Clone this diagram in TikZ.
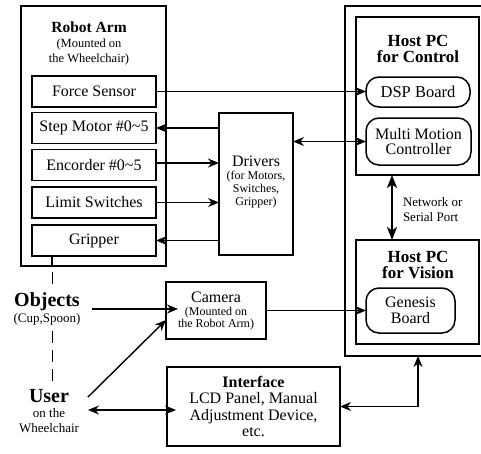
\documentclass[tikz,border=0pt]{standalone}
\usepackage{fontspec}
\setmainfont{Liberation Serif}
\usetikzlibrary{arrows.meta,calc}
\newcommand\fsz[2]{\fontsize{#1}{#2}\selectfont}

\begin{document}
\begin{tikzpicture}[x=1pt,y=-1pt,
  box/.style={draw, line width=1.5pt, inner sep=0pt, outer sep=0pt},
  heavy/.style={draw, line width=2.2pt, inner sep=0pt, outer sep=0pt},
  rbox/.style={box, rounded corners=13pt},
  txt/.style={inner sep=0pt, outer sep=0pt, align=center},
  tip/.tip={Stealth[length=11pt,width=9pt,inset=3.5pt]},
  bigtip/.tip={Stealth[length=13pt,width=10pt,inset=3.5pt]},
  arr/.style={-tip, line width=1.4pt},
  dbl/.style={tip-tip, line width=1.4pt},
  bigdbl/.style={bigtip-bigtip, line width=2.2pt},
  spine/.style={line width=1pt, dash pattern=on 12pt off 7pt}
]
\useasboundingbox (0,0) rectangle (481,453);

% ---------------- robot arm ----------------
\node[heavy, minimum width=145pt, minimum height=260pt] (arm) at (93.5,136) {};
\node[txt, font=\fsz{12.5}{15}] (armt) at (89,43)
  {{\bfseries\fsz{15.5}{15}Robot Arm}\\(Mounted on\\the Wheelchair)};
\begin{scope}[every node/.style={box, minimum width=124pt, minimum height=31pt, font=\fsz{16}{18}}]
  \node (force) at (94,91.5)  {Force Sensor};
  \node (step)  at (94,128)   {Step Motor \#0\textasciitilde5};
  \node (enc)   at (94,165)   {Encorder \#0\textasciitilde5};
  \node (limit) at (94,202.5) {Limit Switches};
  \node (grip)  at (94,240.5) {Gripper};
\end{scope}

% ---------------- drivers ----------------
\node[heavy, minimum width=74pt, minimum height=142pt] (drv) at (256,184) {};
\node[txt, font=\fsz{12}{13}] (drvt) at (256,182)
  {{\fsz{16}{16}Drivers}\\(for Motors,\\Switches,\\Gripper)};

% ---------------- host PCs ----------------
\node[heavy, minimum width=140pt, minimum height=350pt] (host) at (415,181) {};
\node[box, minimum width=123pt, minimum height=158pt] (ctrl) at (417.5,96) {};
\node[txt, font=\bfseries\fsz{17}{15.5}] (ctrlt) at (418,49) {Host PC\\for Control};
\node[rbox, minimum width=104pt, minimum height=30pt, font=\fsz{16.5}{18}] (dsp) at (418,92) {DSP Board};
\node[rbox, minimum width=105pt, minimum height=47pt, align=center, font=\fsz{16}{15}] (mmc) at (418.5,141.5)
  {Multi Motion\\Controller};

\node[box, minimum width=123pt, minimum height=104pt] (vis) at (417.5,292) {};
\node[txt, font=\bfseries\fsz{17}{16}] (vist) at (418,265) {Host PC\\for Vision};
\node[rbox, minimum width=89pt, minimum height=45pt, align=center, font=\fsz{16}{16}] (gen) at (410.5,310.5)
  {Genesis\\Board};

\node[txt, align=left, anchor=west, font=\fsz{13}{15}] (net) at (403,209.5) {Network or\\Serial Port};

% ---------------- camera and interface ----------------
\node[heavy, minimum width=100pt, minimum height=57pt] (cam) at (216,310.5) {};
\node[txt, font=\fsz{12}{12.5}] (camt) at (216,311)
  {{\fsz{16}{16}Camera}\\(Mounted on\\the Robot Arm)};
\node[heavy, minimum width=173pt, minimum height=79pt, align=center, font=\fsz{16}{16.3}] (intf) at (253.5,406.5)
  {\textbf{Interface}\\LCD Panel, Manual\\Adjustment Device,\\etc.};

% ---------------- objects and user ----------------
\node[txt, font=\fsz{13}{16}] (obj) at (47,309) {{\bfseries\fsz{20}{20}Objects}\\(Cup,Spoon)};
\node[txt, font=\fsz{13}{14.5}] (user) at (49,411) {{\bfseries\fsz{20}{20}User}\\[1pt]on the\\Wheelchair};

% ---------------- connectors ----------------
\coordinate (sp) at ([xshift=-42pt]grip.south);
\draw[line width=1.2pt] (sp) -- (sp |- arm.south);
\draw[spine, dash phase=-6pt] (sp |- arm.south) -- ([yshift=3pt]sp |- obj.north);
\draw[spine] ([yshift=-6pt]sp |- obj.south) -- ([yshift=6pt]sp |- user.north);

\draw[arr] (force.east) -- (force.east -| dsp.west);
\draw[arr] (drv.west |- step.east) -- (step.east);
\draw[arr] ([yshift=2pt]enc.east) -- ([yshift=2pt]enc.east -| drv.west);
\draw[arr] (limit.east) -- (limit.east -| drv.west);
\draw[arr] (drv.west |- grip.east) -- (grip.east);
\draw[dbl] (mmc.west) -- (mmc.west -| drv.east);

\draw[arr] ([xshift=12pt]obj.east) -- ([xshift=12pt]obj.east -| cam.west);
\draw[arr] ([xshift=9pt,yshift=14pt]user.east) -- ([yshift=19pt]cam.south west);
\draw[dbl] ([xshift=9pt,yshift=1pt]user.east) -- ([xshift=9pt,yshift=1pt]user.east -| intf.west);
\draw[arr] (cam.east) -- (cam.east -| gen.west);
\draw[dbl] (intf.east) -| ([xshift=3pt]host.south);
\draw[bigdbl] ([xshift=-25.5pt]ctrl.south) -- ([xshift=-25.5pt]vis.north);
\end{tikzpicture}
\end{document}
